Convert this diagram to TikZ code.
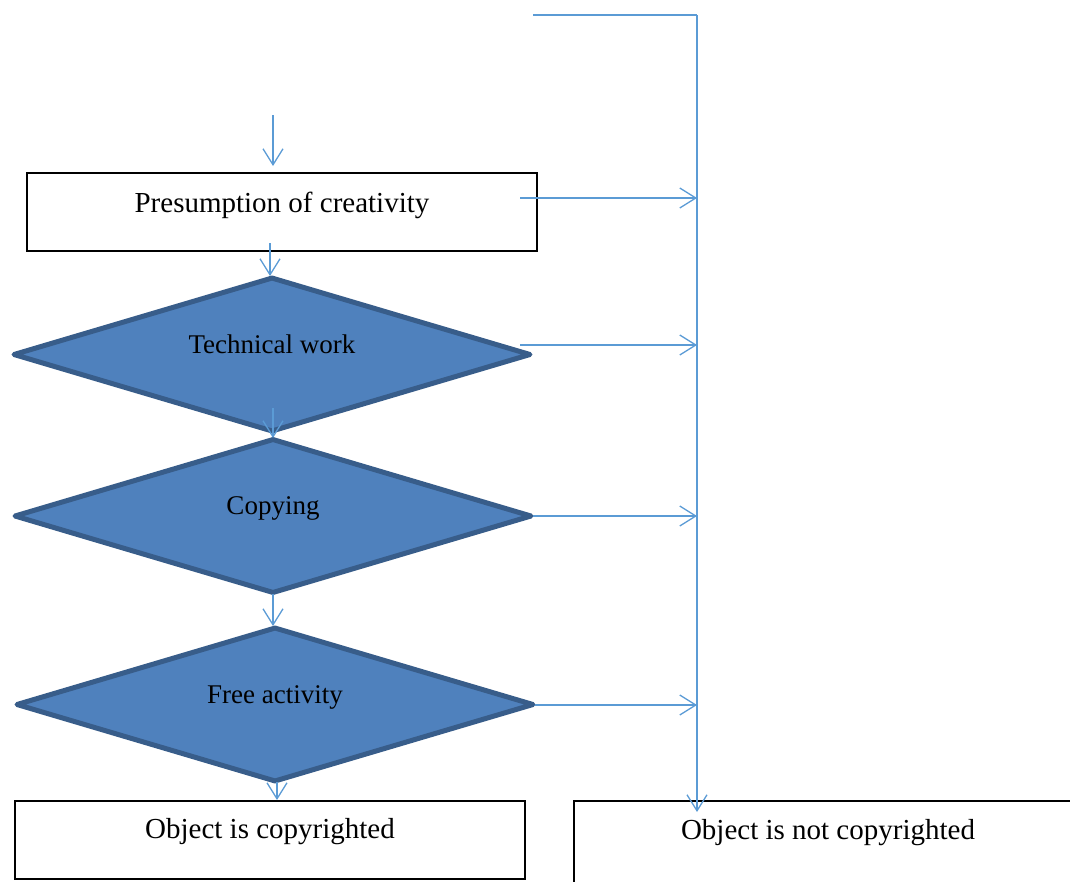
\documentclass[tikz,border=0pt]{standalone}
\usepackage{fontspec}
\setmainfont{Liberation Serif}
\usetikzlibrary{shapes.geometric,arrows.meta}
\definecolor{arrowblue}{HTML}{5B9BD5}
\definecolor{dfill}{HTML}{4F81BD}
\definecolor{dline}{HTML}{385D8A}
\tikzset{
  flow/.style={draw=arrowblue,line width=1.3pt,-{Straight Barb[length=16pt,width=20pt,line width=1.3pt]}},
  bus/.style={draw=arrowblue,line width=1.3pt},
  boxnode/.style={draw=black,line width=2pt,minimum width=510pt,minimum height=78pt,inner sep=0pt,font=\fontsize{29pt}{33pt}\selectfont},
  dec/.style={diamond,draw=dline,fill=dfill,line width=5pt,line join=round,minimum width=518pt,minimum height=155pt,inner sep=0pt,aspect=3.34,font=\fontsize{27pt}{31pt}\selectfont},
}
\begin{document}
\begin{tikzpicture}[x=1pt,y=-1pt]
\useasboundingbox (0,0) rectangle (1070,881);
\clip (0,0) rectangle (1070,881);
% boxes
\node[boxnode,anchor=north west] (pres) at (26,172) {\raisebox{20pt}{Presumption of creativity}};
\node[boxnode,anchor=north west] (yes) at (14,800) {\raisebox{23pt}{Object is copyrighted}};
\node[boxnode,anchor=north west,minimum width=520pt,minimum height=100pt] (no) at (573,800) {};
\node[font=\fontsize{29pt}{33pt}\selectfont] (notext) at (828,833) {Object is not copyrighted};
% diamonds
\node[dec] (tech) at (272,354.5) {\raisebox{20pt}{Technical work}};
\node[dec] (copy) at (273,516) {\raisebox{20pt}{Copying}};
\node[dec] (free) at (275,704.5) {\raisebox{20pt}{Free activity}};
% coordinates
\coordinate (in) at (273,115);
\coordinate (pin) at (273,166);
\coordinate (top) at (533,15);
\coordinate (corner) at (697,15);
\coordinate (busend) at (697,812);
\coordinate (s1) at (520,198);
\coordinate (e1) at (697,198);
\coordinate (s2) at (520,345);
\coordinate (e2) at (697,345);
\coordinate (s3) at (533,516);
\coordinate (e3) at (697,516);
\coordinate (s4) at (535,705);
\coordinate (e4) at (697,705);
\coordinate (t1) at (270,243);
\coordinate (t2) at (273,408);
\coordinate (t3) at (273,594);
\coordinate (t4) at (277,782);
% connectors
\draw[flow] (in) -- (pin);
\draw[flow] (t1) -- (270,276);
\draw[flow] (t2) -- (273,438);
\draw[flow] (t3) -- (273,626);
\draw[flow] (t4) -- (277,800);
\draw[bus] (top) -- (corner);
\draw[flow] (corner) -- (busend);
\draw[flow] (s1) -- (e1);
\draw[flow] (s2) -- (e2);
\draw[flow] (s3) -- (e3);
\draw[flow] (s4) -- (e4);
\end{tikzpicture}
\end{document}
